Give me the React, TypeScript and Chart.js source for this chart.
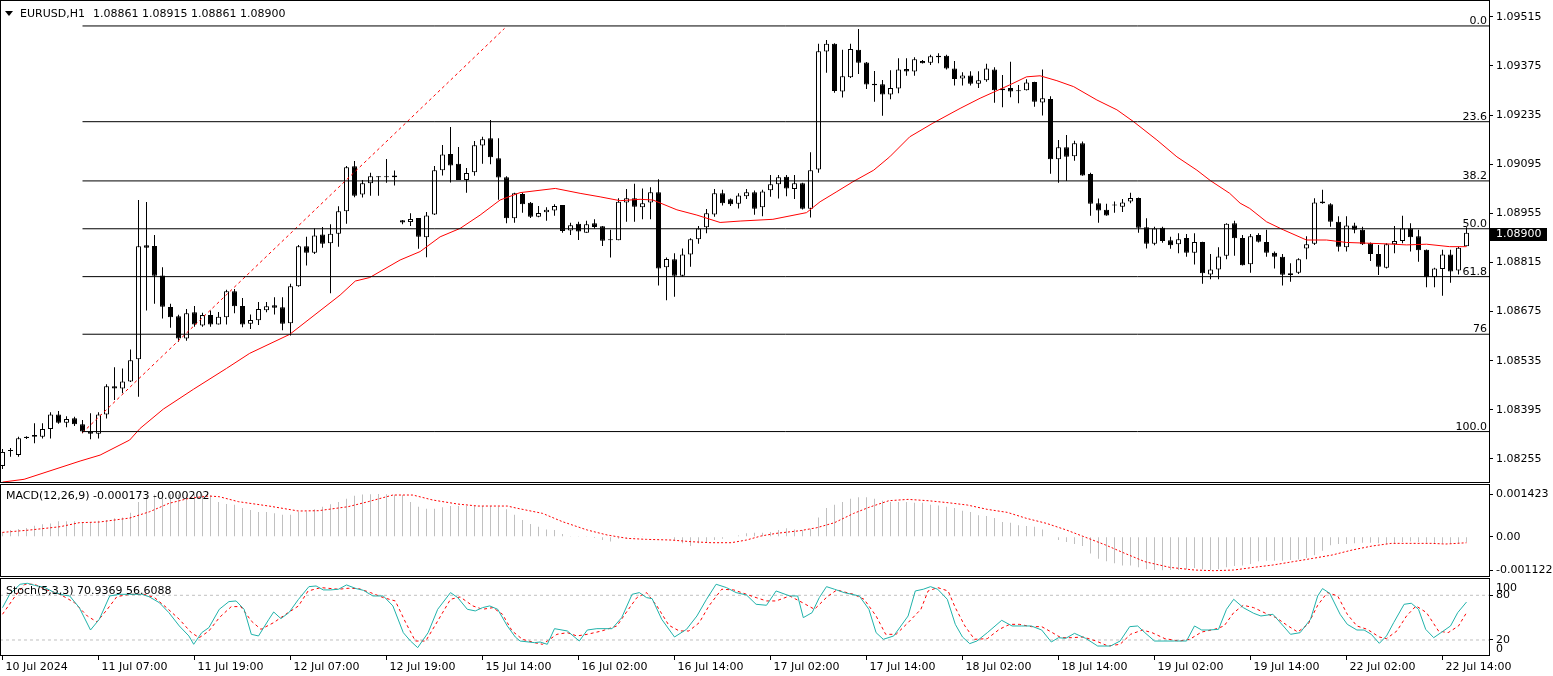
import React, { useEffect, useRef } from "react";
import { Chart, registerables } from "chart.js";
Chart.register(...registerables);

const FONT = '"DejaVu Sans", sans-serif';
Chart.defaults.font.family = FONT;
Chart.defaults.font.size = 11;
Chart.defaults.color = "#000";

// ---------- layout ----------
const W = 1553;
const PLOT_RIGHT = 1489;
const AXIS_W = W - PLOT_RIGHT;
const X_MIN = -0.3125;
const X_MAX = X_MIN + PLOT_RIGHT / 8;

// ---------- data ----------
const tickBars = [0, 12, 24, 36, 48, 60, 72, 84, 96, 108, 120, 132, 144, 156, 168, 180];
const tickLabels = ["10 Jul 2024", "11 Jul 07:00", "11 Jul 19:00", "12 Jul 07:00", "12 Jul 19:00", "15 Jul 14:00", "16 Jul 02:00", "16 Jul 14:00", "17 Jul 02:00", "17 Jul 14:00", "18 Jul 02:00", "18 Jul 14:00", "19 Jul 02:00", "19 Jul 14:00", "22 Jul 02:00", "22 Jul 14:00"];

const priceTicks = [1.08255, 1.08395, 1.08535, 1.08675, 1.08815, 1.08955, 1.09095, 1.09235, 1.09375, 1.09515];
const MAIN_MIN = 1.0818645;
const MAIN_MAX = 1.09563;

const opens = [1.08235,1.08278,1.08266,1.08315,1.08318,1.08318,1.08340,1.08382,1.08358,1.08371,
1.08354,1.08333,1.08327,1.08382,1.08462,1.08456,1.08476,1.08539,1.08864,1.08862,
1.08778,1.08688,1.08662,1.08598,1.08673,1.08635,1.08665,1.08638,1.08659,1.08733,
1.08691,1.08640,1.08650,1.08679,1.08693,1.08687,1.08642,1.08747,1.08861,1.08843,
1.08895,1.08870,1.08897,1.08961,1.09089,1.09009,1.09041,1.09058,1.09058,1.09063,
1.08935,1.08930,1.08942,1.08887,1.08952,1.09078,1.09124,1.09096,1.09050,1.09072,
1.09148,1.09169,1.09112,1.09058,1.08941,1.09010,1.08985,1.08945,1.08958,1.08963,
1.08979,1.08906,1.08925,1.08900,1.08927,1.08918,1.08881,1.08878,1.08986,1.08998,
1.08972,1.08986,1.09015,1.08801,1.08824,1.08777,1.08838,1.08881,1.08915,1.08952,
1.09012,1.08995,1.08982,1.09004,1.09015,1.08972,1.09021,1.09038,1.09059,1.09024,
1.09041,1.08968,1.09080,1.09416,1.09438,1.09302,1.09343,1.09421,1.09385,1.09324,
1.09323,1.09294,1.09311,1.09366,1.09359,1.09389,1.09384,1.09404,1.09404,1.09368,
1.09339,1.09348,1.09324,1.09334,1.09365,1.09311,1.09312,1.09306,1.09306,1.09329,
1.09271,1.09281,1.09109,1.09143,1.09118,1.09155,1.09067,1.08984,1.08965,1.08977,
1.08974,1.08989,1.08999,1.08915,1.08868,1.08914,1.08878,1.08867,1.08885,1.08843,
1.08873,1.08781,1.08795,1.08834,1.08927,1.08885,1.08810,1.08893,1.08873,1.08843,
1.08831,1.08784,1.08786,1.08855,1.08868,1.08989,1.08981,1.08931,1.08858,1.08920,
1.08908,1.08870,1.08839,1.08800,1.08867,1.08876,1.08912,1.08890,1.08851,1.08773,
1.08796,1.08838,1.08792,1.08861];

const highs = [1.08283,1.08286,1.08318,1.08320,1.08357,1.08357,1.08388,1.08392,1.08377,1.08375,
1.08366,1.08385,1.08388,1.08468,1.08516,1.08513,1.08567,1.08993,1.08987,1.08893,
1.08801,1.08697,1.08666,1.08682,1.08691,1.08672,1.08678,1.08674,1.08737,1.08739,
1.08714,1.08667,1.08702,1.08702,1.08716,1.08716,1.08754,1.08865,1.08888,1.08912,
1.08916,1.08924,1.08975,1.09090,1.09104,1.09050,1.09071,1.09061,1.09110,1.09077,
1.08936,1.08955,1.08942,1.08959,1.09090,1.09150,1.09201,1.09144,1.09084,1.09161,
1.09173,1.09221,1.09169,1.09061,1.09014,1.09014,1.08987,1.08976,1.08972,1.08981,
1.08979,1.08928,1.08931,1.08934,1.08938,1.08919,1.08908,1.08998,1.09024,1.09039,
1.09026,1.09029,1.09052,1.08829,1.08841,1.08855,1.08884,1.08919,1.08967,1.09024,
1.09022,1.08997,1.09012,1.09024,1.09020,1.09022,1.09064,1.09064,1.09064,1.09064,
1.09042,1.09129,1.09438,1.09449,1.09440,1.09421,1.09438,1.09480,1.09386,1.09361,
1.09335,1.09363,1.09397,1.09397,1.09400,1.09392,1.09407,1.09411,1.09407,1.09389,
1.09357,1.09360,1.09360,1.09381,1.09371,1.09349,1.09387,1.09321,1.09337,1.09330,
1.09365,1.09289,1.09164,1.09178,1.09162,1.09160,1.09071,1.08997,1.08982,1.08989,
1.08996,1.09014,1.09000,1.08941,1.08917,1.08917,1.08888,1.08898,1.08896,1.08898,
1.08874,1.08839,1.08858,1.08927,1.08934,1.08893,1.08896,1.08898,1.08908,1.08846,
1.08839,1.08813,1.08827,1.08890,1.08998,1.09022,1.08984,1.08947,1.08947,1.08928,
1.08917,1.08872,1.08865,1.08870,1.08919,1.08948,1.08927,1.08908,1.08852,1.08800,
1.08851,1.08851,1.08860,1.08915];

const lows = [1.08226,1.08261,1.08261,1.08312,1.08300,1.08313,1.08313,1.08355,1.08345,1.08349,
1.08328,1.08311,1.08313,1.08370,1.08423,1.08442,1.08474,1.08432,1.08678,1.08697,
1.08655,1.08629,1.08589,1.08592,1.08632,1.08632,1.08632,1.08638,1.08638,1.08670,
1.08630,1.08625,1.08637,1.08673,1.08667,1.08622,1.08607,1.08746,1.08806,1.08839,
1.08857,1.08727,1.08860,1.08925,1.09001,1.09000,1.09005,1.09005,1.09042,1.09034,
1.08924,1.08919,1.08854,1.08830,1.08950,1.09063,1.09043,1.09050,1.09014,1.09062,
1.09096,1.09095,1.08994,1.08927,1.08928,1.08957,1.08942,1.08944,1.08934,1.08948,
1.08900,1.08893,1.08879,1.08900,1.08911,1.08862,1.08829,1.08878,1.08931,1.08931,
1.08938,1.08938,1.08749,1.08707,1.08717,1.08774,1.08803,1.08868,1.08898,1.08945,
1.08977,1.08976,1.08969,1.08996,1.08951,1.08947,1.09002,1.08997,1.09004,1.08996,
1.08966,1.08943,1.09071,1.09356,1.09299,1.09285,1.09341,1.09352,1.09309,1.09273,
1.09233,1.09280,1.09297,1.09347,1.09347,1.09382,1.09378,1.09383,1.09365,1.09319,
1.09319,1.09319,1.09312,1.09330,1.09270,1.09257,1.09286,1.09269,1.09305,1.09259,
1.09234,1.09068,1.09042,1.09047,1.09105,1.09062,1.08948,1.08928,1.08948,1.08957,
1.08959,1.08984,1.08900,1.08855,1.08864,1.08871,1.08854,1.08841,1.08831,1.08809,
1.08754,1.08767,1.08767,1.08824,1.08834,1.08806,1.08786,1.08872,1.08831,1.08798,
1.08749,1.08760,1.08782,1.08824,1.08865,1.08982,1.08917,1.08846,1.08846,1.08898,
1.08865,1.08819,1.08779,1.08798,1.08841,1.08870,1.08846,1.08817,1.08744,1.08744,
1.08720,1.08757,1.08781,1.08861];

const closes = [1.08275,1.08279,1.08314,1.08318,1.08323,1.08340,1.08382,1.08358,1.08369,1.08354,
1.08333,1.08327,1.08382,1.08462,1.08456,1.08476,1.08536,1.08861,1.08857,1.08777,
1.08689,1.08659,1.08598,1.08670,1.08638,1.08665,1.08638,1.08660,1.08733,1.08690,
1.08638,1.08651,1.08682,1.08690,1.08686,1.08640,1.08747,1.08861,1.08843,1.08892,
1.08868,1.08897,1.08961,1.09086,1.09005,1.09041,1.09061,1.09060,1.09060,1.09058,
1.08929,1.08939,1.08888,1.08949,1.09078,1.09123,1.09091,1.09050,1.09070,1.09149,
1.09166,1.09115,1.09057,1.08941,1.09012,1.08981,1.08945,1.08956,1.08965,1.08976,
1.08905,1.08921,1.08903,1.08924,1.08916,1.08877,1.08878,1.08988,1.08998,1.08974,
1.08984,1.09015,1.08798,1.08825,1.08777,1.08838,1.08881,1.08912,1.08955,1.09012,
1.08984,1.08981,1.09006,1.09015,1.08968,1.09017,1.09038,1.09058,1.09026,1.09041,
1.08968,1.09078,1.09417,1.09438,1.09304,1.09346,1.09423,1.09384,1.09322,1.09320,
1.09294,1.09312,1.09365,1.09359,1.09394,1.09383,1.09403,1.09400,1.09368,1.09338,
1.09348,1.09324,1.09334,1.09368,1.09306,1.09306,1.09302,1.09303,1.09328,1.09273,
1.09283,1.09109,1.09143,1.09116,1.09155,1.09063,1.08982,1.08963,1.08949,1.08979,
1.08986,1.08999,1.08914,1.08868,1.08912,1.08876,1.08864,1.08881,1.08843,1.08873,
1.08784,1.08795,1.08832,1.08925,1.08884,1.08807,1.08890,1.08874,1.08843,1.08831,
1.08780,1.08779,1.08824,1.08867,1.08986,1.08984,1.08931,1.08860,1.08920,1.08908,
1.08867,1.08839,1.08803,1.08867,1.08876,1.08912,1.08887,1.08850,1.08773,1.08798,
1.08838,1.08789,1.08857,1.08900];

// moving average (read points: bar position, price)
const maBars = [0,2.7,9.7,12.2,15.9,17.2,20.1,23.9,28,30.9,35.9,42.2,44.1,45.9,49.7,52.2,54.7,57.2,59.7,62.2,64.7,69.1,72.2,74.7,77.2,79.7,81.3,84.3,86.8,89.7,92.2,96.3,100.5,102.2,104.3,106.3,108.9,110.9,113.4,116.3,119.7,122.2,125.9,128,129.7,131.8,133.9,136.8,139.3,141.4,144.3,146.8,149.3,151,153.4,154.7,155.9,158,160.1,163,165.5,168,170.5,173,175.5,178,180.9,183];
const maValues = [1.08189,1.08197,1.08249,1.08266,1.08309,1.08342,1.08397,1.08454,1.08513,1.08556,1.08610,1.08722,1.08762,1.08772,1.08822,1.08846,1.08888,1.08912,1.08950,1.08993,1.09014,1.09026,1.09012,1.09002,1.08991,1.08995,1.08993,1.08965,1.08950,1.08929,1.08933,1.08938,1.08957,1.08988,1.09017,1.09045,1.09078,1.09116,1.09173,1.09212,1.09254,1.09283,1.09321,1.09344,1.09347,1.09333,1.09316,1.09278,1.09250,1.09216,1.09164,1.09116,1.09078,1.09048,1.09012,1.08984,1.08969,1.08931,1.08908,1.08879,1.08879,1.08872,1.08870,1.08868,1.08865,1.08867,1.08860,1.08860];

// fibonacci retracement
const fibHigh = 1.09489;
const fibLow = 1.08333;
const fibStartBar = 10;
const fibPercents = [0, 23.6, 38.2, 50, 61.8, 76, 100];
const fibLabels = ["0.0", "23.6", "38.2", "50.0", "61.8", "76", "100.0"];

// trend line
const trendBars = [10, 62.75];
const trendValues = [1.0833, 1.09482];

// MACD
const MACD_MIN = -0.0013433;
const MACD_MAX = 0.0017567;
const macdTicks = [-0.001122, 0, 0.001423];
const macdHist = [0.000156,0.000222,0.000256,0.000289,0.000367,0.000411,0.000444,0.000511,0.000511,0.000511,
0.000489,0.000489,0.000533,0.000556,0.000611,0.000644,0.0008,0.001156,0.001356,0.001405,
0.001415,0.001415,0.001405,0.0014,0.001405,0.0014,0.001378,0.001156,0.001089,0.001067,
0.000956,0.000889,0.000822,0.000822,0.000778,0.000733,0.000733,0.000822,0.000844,0.000911,
0.001,0.001078,0.001156,0.001267,0.001367,0.00141,0.001415,0.001423,0.001415,0.0014,
0.00139,0.001156,0.001,0.000933,0.000933,0.000978,0.001022,0.001022,0.001022,0.001022,
0.001022,0.001022,0.001,0.000911,0.000733,0.000556,0.000422,0.000333,0.000244,0.000222,
0.000089,0.000022,0.000022,0.000022,-0.000044,-0.000111,-0.000156,-0.000067,-0.000044,0.000022,
0.000022,-0.000022,-0.000022,-0.000022,-0.000111,-0.000222,-0.000311,-0.000222,-0.000178,-0.000111,
-0.000067,-0.000022,0.000044,0.000111,0.000133,0.000133,0.000156,0.000222,0.000278,0.000244,
0.000222,0.000267,0.000644,0.000956,0.001067,0.001156,0.001267,0.001311,0.001311,0.001267,
0.0012,0.001156,0.001156,0.001156,0.001133,0.001133,0.001067,0.001044,0.001,0.000956,
0.000867,0.000822,0.000711,0.000689,0.000622,0.000489,0.000467,0.000378,0.000356,0.000333,
0.000244,-0.000022,-0.000111,-0.000178,-0.000244,-0.000311,-0.000556,-0.000733,-0.000822,-0.000889,
-0.000956,-0.000956,-0.001022,-0.001089,-0.001111,-0.001122,-0.001111,-0.001111,-0.001089,-0.001044,
-0.001089,-0.001111,-0.001089,-0.001022,-0.000978,-0.000956,-0.000911,-0.000822,-0.0008,-0.0008,
-0.0008,-0.000778,-0.000756,-0.000711,-0.000622,-0.000467,-0.000289,-0.000244,-0.000244,-0.000222,
-0.0002,-0.0002,-0.000222,-0.000244,-0.000222,-0.000178,-0.000156,-0.000178,-0.0002,-0.000222,
-0.000222,-0.000222,-0.000222,-0.000173];
const macdSignalBars = [0,3.4,7.2,9.6,12.1,15.9,18.4,20.8,23.3,25.8,27.1,29.5,33.3,37,39.5,43.2,45.7,48.8,51.3,53.8,56.9,59.4,63.1,64.4,67.5,70,73.1,75.6,78.1,80.5,83.6,86.1,88.6,91.1,93,94.8,96.7,99.7,101.8,104,106.4,108.3,110.8,113.2,115.7,118.2,120.6,123.1,125.6,128,130.5,133,135.4,137.9,140.3,142.8,145.9,149,151.4,153.9,156.4,158.8,161.3,163.8,166.2,168.7,171.2,173.6,176.1,178.6,180.4,183];
const macdSignalValues = [0.000144,0.000222,0.000333,0.000467,0.000489,0.000622,0.000833,0.001111,0.001278,0.001356,0.001333,0.001167,0.001022,0.000856,0.000867,0.001,0.001167,0.001389,0.001389,0.001222,0.001089,0.001022,0.001022,0.000944,0.000778,0.0005,0.000222,0.000056,-0.000056,-0.000089,-0.000111,-0.000167,-0.0002,-0.0002,-0.000111,0.000022,0.000111,0.0002,0.0003,0.000467,0.000778,0.000978,0.0012,0.001244,0.0012,0.001133,0.001056,0.000911,0.000811,0.000611,0.000444,0.000222,-0.000022,-0.000278,-0.000556,-0.000833,-0.001022,-0.001111,-0.001133,-0.001111,-0.001022,-0.000944,-0.000833,-0.000722,-0.000611,-0.000444,-0.000311,-0.000222,-0.000222,-0.000222,-0.000244,-0.000202];

// Stochastic
const STOCH_MIN = -1.5;
const STOCH_MAX = 103.2;
const stochTicks = [20, 80];
const stochLevels = [20, 80];
const stochMainBars = [0,0.9,2.2,3.1,4,5.3,6.5,7.8,8.4,9.6,11,12.1,13.4,14.6,15.9,17.4,18.3,19.6,20.8,22.1,23.3,23.9,24.9,25.8,27.1,28.3,29.2,30.2,31.1,32,33.3,33.9,34.8,35.8,37,38.3,39.2,40.1,41,42,43,44.2,45.1,46.3,47.6,48.8,50.1,51,51.9,53.2,54.4,56,56.9,58.1,59.1,60,60.9,61.9,63.1,64.1,64.7,66.5,67.2,68.1,69,70.6,72.1,73.1,74.3,76.2,77.4,78.7,79.6,80.5,81.2,82.4,84,85.5,86.8,88,89.2,90.5,91.7,93,94.2,95.5,96.7,98.4,99.4,100.1,101.2,102.1,103,104,105.2,107.1,108.3,109.2,110.1,111.4,113.2,114.1,115.1,116,116.9,118.1,119.1,120,120.9,121.8,123.1,124.9,126.2,127.4,128.6,129.9,131.1,132,132.9,134,135.4,136.9,138.5,139.7,140.9,141.9,142.8,144,146.5,148,149,149.9,150.8,152,153,153.9,155.1,156.4,157.3,158.8,160.1,161,162.2,163.5,164.4,165,165.9,167.2,168.1,169.3,170.2,171.1,172.1,173,173.9,175.2,176.1,177,177.9,178.9,179.8,181,181.9,183];
const stochMainValues = [63.4,81.3,94.8,96.1,93.4,90.3,83.6,80,79.1,63.4,33.4,47.8,79.1,81.3,81.3,81.3,78.2,70.1,56.7,38.8,25.4,14.2,29.8,36.6,61.2,71.5,72.4,61.2,27.6,25.4,47.8,57.6,48.7,56.7,74.6,91.6,92.5,87.2,87.2,88.1,93.9,89,86.7,79.1,79.1,65.7,29.8,18.6,9.7,29.8,61.2,83.6,76.9,61.2,59,63.4,65.7,61.2,38.8,24,18.6,16.4,17.3,14.2,35.2,32.1,18.6,33.4,35.2,35.2,50,81.3,83.6,76.9,75.5,47.8,24,34.3,52.2,74.6,94.8,90.3,83.6,80.4,67.9,66.6,85.8,79.1,79.1,50,56.7,76.9,91.6,88.1,83.6,79.1,61.2,29.8,20.9,25.4,52.2,85.8,88.1,91.6,88.1,74.6,41,24,15.1,18.6,29.8,46.4,38.8,38.8,38.8,33.4,17.3,23.1,22.2,28.9,22.2,11.9,11.9,18.6,37.9,38.8,29.8,18.6,18.6,18.6,38.8,33.4,33.4,34.3,61.2,74.6,63.4,55.8,52.2,54.5,38.8,27.6,29.8,47.8,79.1,89,82.7,54.5,41,33.4,33.4,27.6,15.5,25.4,43.3,67.9,69.3,61.2,34.3,23.1,29.8,38.8,56.7,70.9369];
const stochSignalBars = [0,1.6,2.8,4,5.3,7.2,9,10.6,11.8,13.1,14.3,15.9,17.7,19,20.5,22.1,23.6,24.6,25.8,27.1,28.6,29.8,31.1,32.3,33.9,35.4,37,38.2,39.8,42,43.2,44.5,46,47.6,49.1,50.4,51.6,52.9,54.4,56,57.2,58.8,60,61.3,62.5,63.7,65,66.5,67.5,68.1,69.3,70.6,71.8,73.1,74.9,76.8,78.1,79.3,80.5,81.8,83.3,84.6,85.8,87.1,88.3,89.9,91.4,93,94.2,95.5,96.7,98.4,100,101.5,103.1,104.3,105.2,106.4,107.7,109.2,110.4,111.7,113.2,114.8,115.7,116.9,118.2,119.1,120.3,121.5,123.1,124.6,125.9,127.1,128.6,129.9,131.1,132.3,133.6,135.1,136.7,138.2,139.7,141,142.5,143.7,145.3,147.1,148.4,149.9,151.5,152.7,153.9,155.1,156.4,157.9,159.2,160.7,161.9,163.2,164.4,165.6,166.9,168.1,169.3,170.6,172.1,173,174.3,175.5,176.7,178,179.5,180.7,182,183];
const stochSignalValues = [54.5,79.1,94.8,94.8,88.1,81.3,70.1,52.2,44.2,61.2,78.2,81.3,81.3,76.9,63.4,47.8,29.8,23.1,32.1,50,64.8,64.8,45.5,34.3,43.3,54.5,65.7,85.8,90.3,88.1,89.4,89,83.6,76.9,72.4,43.3,18.6,18.6,45.5,74.6,77.8,65.7,61.2,63.4,54.5,32.1,20.9,16.4,14.2,18.6,27.6,29.8,25.4,27.6,32.1,38.8,59,76.9,83.6,65.7,39.7,32.1,32.1,43.3,65.7,88.1,87.2,81.3,76.9,72.4,72.4,79.1,70.1,61.2,78.2,87.2,84.5,81.3,74.6,52.2,27.6,27.6,43.3,61.2,85.8,90.3,85.8,63.4,38.8,20.9,21.8,34.3,41,41,37.9,37.9,30.7,23.1,23.1,24,18.6,11.9,14.2,27.6,33.4,29.8,21.8,18.6,20.9,30.7,34.3,38.8,56.7,66.6,63.4,55.8,50,38.8,30.7,41,66.6,83.6,79.1,54.5,38.8,34.3,24,21.8,32.1,52.2,65.7,56.7,32.1,29.8,38.8,56.6088];

// ---------- helpers ----------
const font = { family: FONT, size: 11 };
const pts = (xs: number[], ys: number[]) => xs.map((x, i) => ({ x, y: ys[i] }));
const last = (a: number[]) => a[a.length - 1];
const fibPrice = (pct: number) => fibHigh - (pct / 100) * (fibHigh - fibLow);

function xAxis(show: boolean): any {
  return {
    type: "linear",
    min: X_MIN,
    max: X_MAX,
    offset: false,
    display: show,
    afterBuildTicks: (s: any) => {
      s.ticks = tickBars.map((v) => ({ value: v }));
    },
    afterFit: (s: any) => {
      s.height = show ? 20 : 0;
      s.paddingLeft = 0;
      s.paddingRight = 0;
    },
    grid: { drawOnChartArea: false, drawTicks: true, tickLength: 4, color: "#000", lineWidth: 1 },
    border: { display: false },
    ticks: {
      autoSkip: false,
      maxRotation: 0,
      minRotation: 0,
      align: "start",
      labelOffset: 3,
      padding: 1,
      color: "#000",
      font,
      callback: (v: number) => {
        const k = tickBars.indexOf(v);
        return k >= 0 ? tickLabels[k] : "";
      },
    },
  };
}

function yAxis(min: number, max: number, ticks: number[], fmt: (v: number) => string): any {
  return {
    type: "linear",
    position: "right",
    min,
    max,
    afterBuildTicks: (s: any) => {
      s.ticks = ticks.map((v) => ({ value: v }));
    },
    afterFit: (s: any) => {
      s.width = AXIS_W;
      s.paddingTop = 0;
      s.paddingBottom = 0;
    },
    grid: { drawOnChartArea: false, drawTicks: true, tickLength: 4, color: "#000", lineWidth: 1 },
    border: { display: false },
    ticks: { autoSkip: false, color: "#000", font, padding: 3, callback: fmt },
  };
}

const framePlugin = {
  id: "frame",
  afterDraw(chart: any) {
    const { ctx, chartArea: a } = chart;
    ctx.save();
    ctx.strokeStyle = "#000";
    ctx.lineWidth = 1;
    ctx.strokeRect(a.left + 0.5, a.top + 0.5, a.right - a.left, a.bottom - a.top - 1);
    ctx.restore();
  },
};

const baseOptions = (padBottom: number): any => ({
  responsive: false,
  animation: false,
  devicePixelRatio: 1,
  events: [],
  layout: { padding: { left: 0, right: 0, top: 0, bottom: padBottom } },
  plugins: { legend: { display: false }, tooltip: { enabled: false }, title: { display: false } },
});

const lineDs = (data: any[], color: string, dash: number[] = [], order = 0): any => ({
  type: "line",
  data,
  borderColor: color,
  borderWidth: 1,
  borderDash: dash,
  pointRadius: 0,
  tension: 0,
  fill: false,
  order,
});

// ---------- main price chart ----------
const mainLabelsPlugin = {
  id: "mainLabels",
  afterDraw(chart: any) {
    const { ctx, chartArea: a } = chart;
    const y = chart.scales.y;
    ctx.save();
    ctx.font = `11px ${FONT}`;
    ctx.fillStyle = "#000";
    ctx.textAlign = "right";
    ctx.textBaseline = "alphabetic";
    fibPercents.forEach((p, k) => {
      const py = y.getPixelForValue(fibPrice(p));
      ctx.fillText(fibLabels[k], a.right - 2, py - 2);
    });
    const c = last(closes);
    const py = Math.round(y.getPixelForValue(c));
    ctx.fillStyle = "#000";
    ctx.fillRect(a.right + 1, py - 5, 57, 13);
    ctx.fillStyle = "#fff";
    ctx.textAlign = "left";
    ctx.textBaseline = "middle";
    ctx.fillText(c.toFixed(5), a.right + 7, py + 1.5);
    ctx.restore();
  },
};

function buildMain(): any {
  const bodyColors = closes.map((c, i) => (c >= opens[i] ? "#ffffff" : "#000000"));
  const fibSets = fibPercents.map((p) =>
    lineDs([{ x: fibStartBar, y: fibPrice(p) }, { x: X_MAX, y: fibPrice(p) }], "#000", [], 0)
  );
  return {
    type: "bar",
    data: {
      datasets: [
        {
          type: "bar",
          data: lows.map((l, i) => ({ x: i, y: [l, highs[i]] })),
          backgroundColor: "#000",
          borderWidth: 0,
          barThickness: 1,
          grouped: false,
          inflateAmount: 0,
          order: 3,
        },
        {
          type: "bar",
          data: opens.map((o, i) => ({ x: i, y: [o, closes[i]] })),
          backgroundColor: bodyColors,
          borderColor: "#000",
          borderWidth: 1,
          borderSkipped: false,
          barThickness: 5,
          minBarLength: 1,
          grouped: false,
          inflateAmount: 0,
          order: 2,
        },
        lineDs(pts(maBars, maValues), "#ff0000", [], 1),
        lineDs(pts(trendBars, trendValues), "#ff0000", [3, 3], 1),
        ...fibSets,
      ],
    },
    options: {
      ...baseOptions(1),
      scales: {
        x: xAxis(false),
        y: yAxis(MAIN_MIN, MAIN_MAX, priceTicks, (v: number) => v.toFixed(5)),
      },
    },
    plugins: [framePlugin, mainLabelsPlugin],
  };
}

// ---------- MACD ----------
function buildMacd(): any {
  return {
    type: "bar",
    data: {
      datasets: [
        {
          type: "bar",
          data: macdHist.map((v, i) => ({ x: i, y: v })),
          backgroundColor: "#c0c0c0",
          borderWidth: 0,
          barThickness: 1,
          grouped: false,
          inflateAmount: 0,
          order: 2,
        },
        lineDs(pts(macdSignalBars, macdSignalValues), "#ff0000", [2, 2], 1),
      ],
    },
    options: {
      ...baseOptions(1),
      scales: {
        x: xAxis(false),
        y: yAxis(MACD_MIN, MACD_MAX, macdTicks, (v: number) => (v === 0 ? "0.00" : v.toFixed(6))),
      },
    },
    plugins: [framePlugin],
  };
}

// ---------- Stochastic ----------
const stochLabelsPlugin = {
  id: "stochLabels",
  afterDraw(chart: any) {
    const { ctx, chartArea: a } = chart;
    ctx.save();
    ctx.font = `11px ${FONT}`;
    ctx.fillStyle = "#000";
    ctx.textAlign = "left";
    ctx.textBaseline = "middle";
    ctx.fillText(String(STOCH_MAX > 100 ? 100 : STOCH_MAX), a.right + 7, a.top + 10);
    ctx.fillText("0", a.right + 7, a.bottom - 7);
    ctx.restore();
  },
};

function buildStoch(): any {
  return {
    type: "line",
    data: {
      datasets: [
        ...stochLevels.map((lv) => lineDs([{ x: X_MIN, y: lv }, { x: X_MAX, y: lv }], "#c0c0c0", [3, 3], 3)),
        lineDs(pts(stochSignalBars, stochSignalValues), "#ff0000", [3, 3], 2),
        lineDs(pts(stochMainBars, stochMainValues), "#20b2aa", [], 1),
      ],
    },
    options: {
      ...baseOptions(0),
      scales: {
        x: xAxis(true),
        y: yAxis(STOCH_MIN, STOCH_MAX, stochTicks, (v: number) => String(v)),
      },
    },
    plugins: [framePlugin, stochLabelsPlugin],
  };
}

// ---------- components ----------
function Panel({ top, height, build }: { top: number; height: number; build: () => any }) {
  const ref = useRef<HTMLCanvasElement | null>(null);
  useEffect(() => {
    const chart = new Chart(ref.current as HTMLCanvasElement, build());
    return () => chart.destroy();
  }, [build]);
  return (
    <canvas
      ref={ref}
      width={W}
      height={height}
      style={{ position: "absolute", left: 0, top, width: W, height, display: "block" }}
    />
  );
}

const textStyle: React.CSSProperties = {
  position: "absolute",
  fontFamily: FONT,
  fontSize: 11,
  lineHeight: "13px",
  color: "#000",
  whiteSpace: "pre",
  pointerEvents: "none",
};

export default function App() {
  const n = closes.length - 1;
  const ohlc = [opens[n], highs[n], lows[n], closes[n]].map((v) => v.toFixed(5)).join(" ");
  return (
    <div style={{ position: "absolute", left: 0, top: 0, width: W, height: 676, background: "#fff", overflow: "hidden" }}>
      <Panel top={0} height={484} build={buildMain} />
      <Panel top={484} height={94} build={buildMacd} />
      <Panel top={578} height={98} build={buildStoch} />
      <div
        style={{
          position: "absolute",
          left: 5,
          top: 11,
          width: 0,
          height: 0,
          borderLeft: "4px solid transparent",
          borderRight: "4px solid transparent",
          borderTop: "5px solid #000",
        }}
      />
      <div style={{ ...textStyle, left: 20, top: 7 }}>EURUSD,H1</div>
      <div style={{ ...textStyle, left: 93, top: 7 }}>{ohlc}</div>
      <div style={{ ...textStyle, left: 6, top: 489 }}>
        {`MACD(12,26,9) ${last(macdHist).toFixed(6)} ${last(macdSignalValues).toFixed(6)}`}
      </div>
      <div style={{ ...textStyle, left: 6, top: 584 }}>
        {`Stoch(5,3,3) ${last(stochMainValues).toFixed(4)} ${last(stochSignalValues).toFixed(4)}`}
      </div>
    </div>
  );
}
